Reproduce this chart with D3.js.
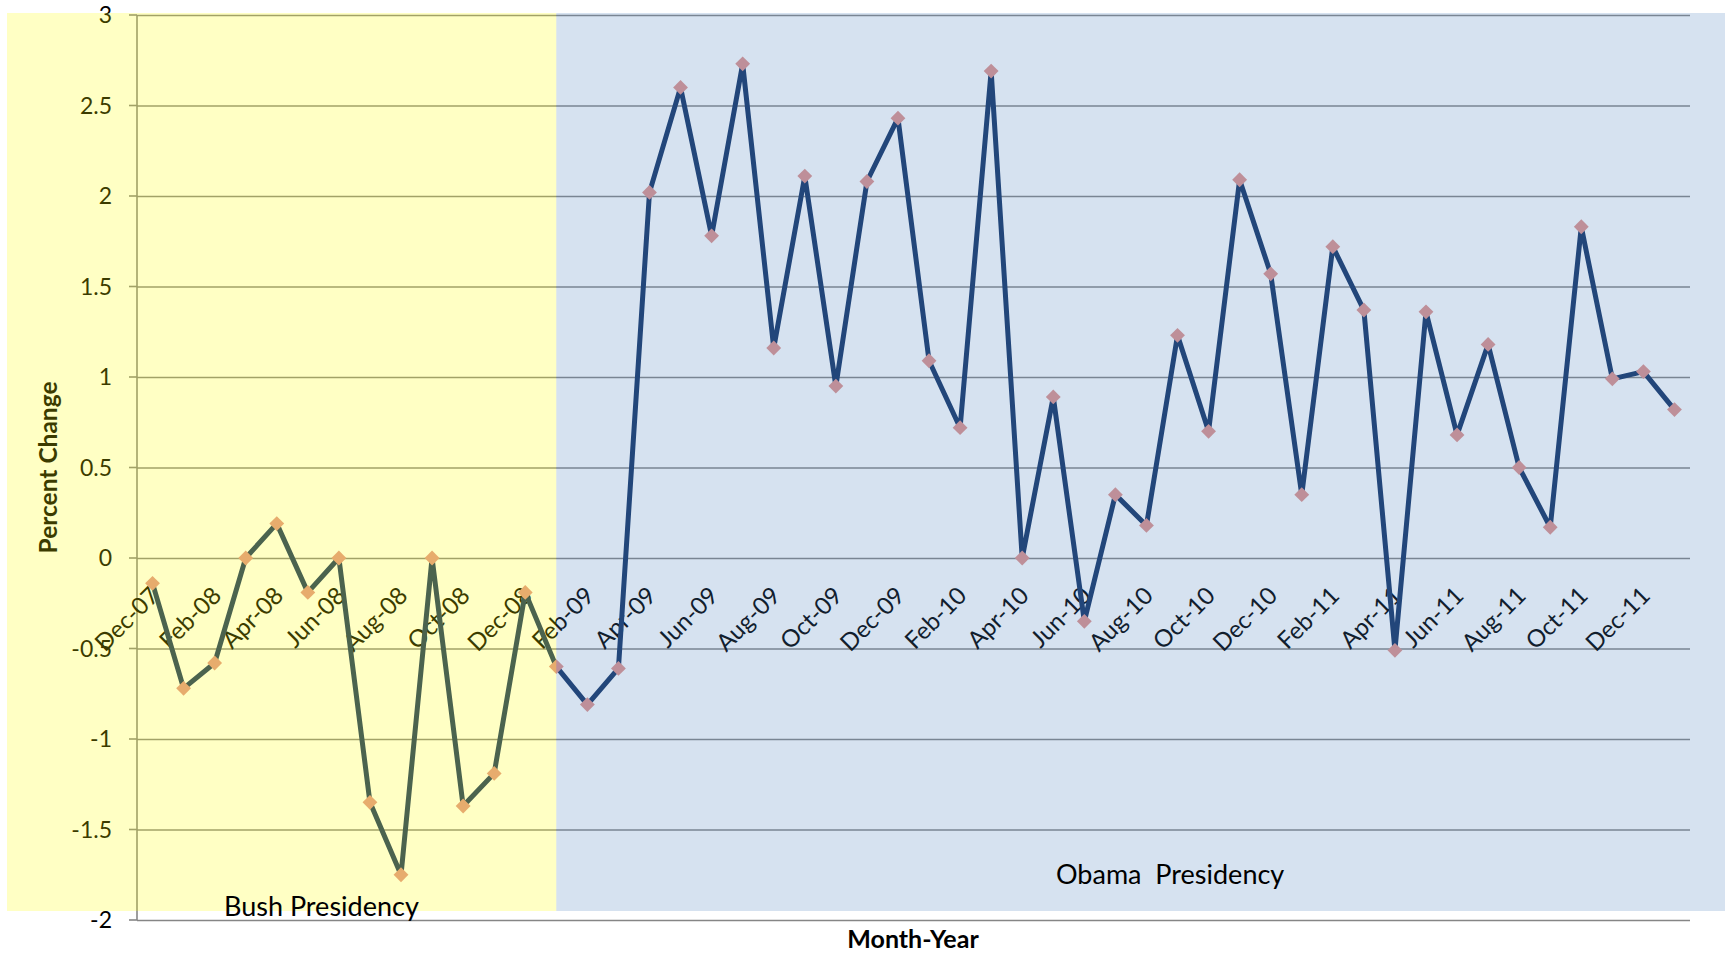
<!DOCTYPE html>
<html>
<head>
<meta charset="utf-8">
<script src="https://cdn.jsdelivr.net/npm/d3@7"></script>
<style>
    body { margin: 0; background: #ffffff; }
    svg { display: block; font-family: Lato, "Open Sans", sans-serif; }
</style>
</head>
<body>
<div id="chart"></div>
<script>
// monthly categories (x axis)
const months = [
    "Dec-07", "Jan-08", "Feb-08", "Mar-08", "Apr-08", "May-08", "Jun-08", "Jul-08",
    "Aug-08", "Sep-08", "Oct-08", "Nov-08", "Dec-08", "Jan-09", "Feb-09", "Mar-09",
    "Apr-09", "May-09", "Jun-09", "Jul-09", "Aug-09", "Sep-09", "Oct-09", "Nov-09",
    "Dec-09", "Jan-10", "Feb-10", "Mar-10", "Apr-10", "May-10", "Jun-10", "Jul-10",
    "Aug-10", "Sep-10", "Oct-10", "Nov-10", "Dec-10", "Jan-11", "Feb-11", "Mar-11",
    "Apr-11", "May-11", "Jun-11", "Jul-11", "Aug-11", "Sep-11", "Oct-11", "Nov-11",
    "Dec-11", "Jan-12"
];

// percent change per month
const pctChange = [
    -0.14, -0.72, -0.58, 0.00, 0.19, -0.19, 0.00, -1.35,
    -1.75, 0.00, -1.37, -1.19, -0.19, -0.60, -0.81, -0.61,
    2.02, 2.60, 1.78, 2.73, 1.16, 2.11, 0.95, 2.08,
    2.43, 1.09, 0.72, 2.69, 0.00, 0.89, -0.35, 0.35,
    0.18, 1.23, 0.70, 2.09, 1.57, 0.35, 1.72, 1.37,
    -0.51, 1.36, 0.68, 1.18, 0.50, 0.17, 1.83, 0.99,
    1.03, 0.82
];

// labelled months (every second one)
const xTickLabels = [
    "Dec-07", "Feb-08", "Apr-08", "Jun-08", "Aug-08", "Oct-08", "Dec-08",
    "Feb-09", "Apr-09", "Jun-09", "Aug-09", "Oct-09", "Dec-09",
    "Feb-10", "Apr-10", "Jun-10", "Aug-10", "Oct-10", "Dec-10",
    "Feb-11", "Apr-11", "Jun-11", "Aug-11", "Oct-11", "Dec-11"
];

const yTicks = [-2, -1.5, -1, -0.5, 0, 0.5, 1, 1.5, 2, 2.5, 3];

// shaded periods
const eraNames = ["Bush Presidency", "Obama  Presidency"];
const eraSplit = "Jan-09";

const width = 1729, height = 953;
const margin = {top: 15, right: 39, bottom: 33, left: 137};

const svg = d3.select("#chart").append("svg")
    .attr("width", width)
    .attr("height", height);

const x = d3.scaleBand()
    .domain(months)
    .range([margin.left, width - margin.right]);

const y = d3.scaleLinear()
    .domain([-2, 3])
    .range([height - margin.bottom, margin.top]);

const xc = d => x(d) + x.bandwidth() / 2;

// gridlines
svg.append("g")
    .attr("transform", `translate(${margin.left},0)`)
    .call(d3.axisLeft(y).tickValues(yTicks).tickSize(-(width - margin.left - margin.right)).tickFormat(""))
    .call(g => g.select(".domain").remove())
    .call(g => g.selectAll(".tick line").attr("stroke", "#868686").attr("stroke-width", 1.6));

// little outward ticks on the y axis
svg.append("g")
    .selectAll("line")
    .data(yTicks)
    .join("line")
    .attr("x1", margin.left - 8)
    .attr("x2", margin.left)
    .attr("y1", d => y(d))
    .attr("y2", d => y(d))
    .attr("stroke", "#868686")
    .attr("stroke-width", 1.6);

// y axis line
svg.append("line")
    .attr("x1", margin.left).attr("x2", margin.left)
    .attr("y1", y(3)).attr("y2", y(-2))
    .attr("stroke", "#868686")
    .attr("stroke-width", 1.6);

// y tick labels
svg.append("g")
    .selectAll("text")
    .data(yTicks)
    .join("text")
    .attr("x", margin.left - 25)
    .attr("y", d => y(d))
    .attr("dy", "0.36em")
    .attr("text-anchor", "end")
    .attr("font-size", 23)
    .attr("fill", "#000")
    .text(d => d);

// x tick labels, rotated, hanging under the zero line
svg.append("g")
    .selectAll("text")
    .data(xTickLabels)
    .join("text")
    .attr("transform", d => `translate(${xc(d) + 2},${y(0) + 33}) rotate(-45)`)
    .attr("dy", "0.36em")
    .attr("text-anchor", "end")
    .attr("font-size", 24)
    .attr("fill", "#000")
    .text(d => d);

// axis titles
svg.append("text")
    .attr("x", 913)
    .attr("y", 948)
    .attr("text-anchor", "middle")
    .attr("font-size", 25)
    .attr("font-weight", "bold")
    .text("Month-Year");

svg.append("text")
    .attr("transform", `translate(57,${(y(3) + y(-2)) / 2}) rotate(-90)`)
    .attr("text-anchor", "middle")
    .attr("font-size", 24.5)
    .attr("font-weight", "bold")
    .text("Percent Change");

// series
const line = d3.line()
    .x((d, i) => xc(months[i]))
    .y(d => y(d));

svg.append("path")
    .datum(pctChange)
    .attr("fill", "none")
    .attr("stroke", "#153466")
    .attr("stroke-width", 5)
    .attr("stroke-linejoin", "round")
    .attr("d", line);

svg.append("g")
    .selectAll("path")
    .data(pctChange)
    .join("path")
    .attr("d", d3.symbol(d3.symbolSquare, 110))
    .attr("transform", (d, i) => `translate(${xc(months[i])},${y(d)}) rotate(45)`)
    .attr("fill", "#e0948e");

// translucent period shading on top of the chart
const splitX = xc(eraSplit);
const shadeTop = 13, shadeBottom = 911;

svg.append("rect")
    .attr("x", 7)
    .attr("y", shadeTop)
    .attr("width", splitX - 7)
    .attr("height", shadeBottom - shadeTop)
    .attr("fill", "rgb(255,255,0)")
    .attr("fill-opacity", 0.23);

svg.append("rect")
    .attr("x", splitX)
    .attr("y", shadeTop)
    .attr("width", 1725 - splitX)
    .attr("height", shadeBottom - shadeTop)
    .attr("fill", "rgb(79,129,189)")
    .attr("fill-opacity", 0.23);

svg.append("text")
    .attr("x", 224)
    .attr("y", 916)
    .attr("font-size", 27)
    .attr("fill", "#000")
    .text(eraNames[0]);

svg.append("text")
    .attr("x", 1056)
    .attr("y", 884)
    .attr("font-size", 27)
    .attr("fill", "#000")
    .style("white-space", "pre")
    .text(eraNames[1]);
</script>
</body>
</html>
